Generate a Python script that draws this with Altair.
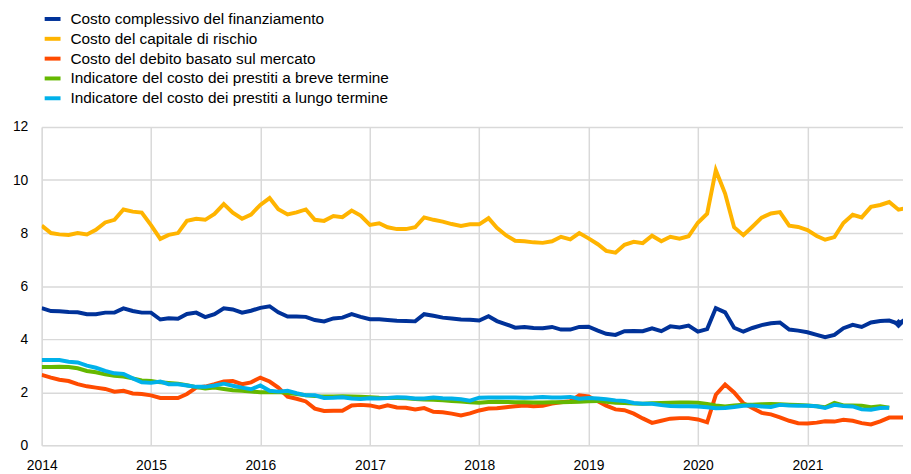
import altair as alt
import pandas as pd

names = [
    "Costo complessivo del finanziamento",
    "Costo del capitale di rischio",
    "Costo del debito basato sul mercato",
    "Indicatore del costo dei prestiti a breve termine",
    "Indicatore del costo dei prestiti a lungo termine",
]
colors = ["#003299", "#FFB400", "#FF4B00", "#65B800", "#00B1EA"]

# monthly values from Jan 2014 (last value of first three is just beyond the visible edge)
blue = [5.17, 5.06, 5.05, 5.02, 5.01, 4.94, 4.94, 5.00, 5.00, 5.16, 5.06, 5.00,
        5.00, 4.74, 4.79, 4.77, 4.95, 5.00, 4.83, 4.94, 5.16, 5.12, 5.00, 5.07,
        5.18, 5.24, 5.01, 4.85, 4.85, 4.84, 4.72, 4.67, 4.78, 4.81, 4.94, 4.84,
        4.75, 4.75, 4.72, 4.69, 4.68, 4.67, 4.94, 4.88, 4.81, 4.78, 4.74, 4.73,
        4.70, 4.86, 4.68, 4.56, 4.43, 4.46, 4.42, 4.41, 4.46, 4.36, 4.36, 4.46,
        4.47, 4.32, 4.20, 4.16, 4.30, 4.31, 4.30, 4.41, 4.30, 4.48, 4.44, 4.51,
        4.28, 4.38, 5.17, 5.01, 4.43, 4.28, 4.42, 4.53, 4.60, 4.63, 4.36, 4.32,
        4.26, 4.16, 4.07, 4.16, 4.41, 4.54, 4.46, 4.63, 4.68, 4.70, 4.58, 4.80]
yellow = [8.28, 8.00, 7.95, 7.93, 8.00, 7.95, 8.12, 8.40, 8.50, 8.89, 8.81, 8.77,
          8.30, 7.78, 7.93, 8.00, 8.46, 8.54, 8.50, 8.72, 9.09, 8.77, 8.54, 8.70,
          9.06, 9.32, 8.90, 8.70, 8.78, 8.89, 8.50, 8.46, 8.64, 8.60, 8.85, 8.66,
          8.31, 8.37, 8.22, 8.15, 8.15, 8.22, 8.59, 8.50, 8.43, 8.34, 8.27, 8.33,
          8.33, 8.56, 8.20, 7.91, 7.71, 7.69, 7.65, 7.63, 7.69, 7.86, 7.76, 8.00,
          7.80, 7.58, 7.33, 7.26, 7.56, 7.67, 7.62, 7.90, 7.69, 7.86, 7.79, 7.88,
          8.39, 8.73, 10.37, 9.49, 8.22, 7.92, 8.24, 8.58, 8.74, 8.79, 8.28, 8.23,
          8.11, 7.89, 7.75, 7.85, 8.38, 8.69, 8.59, 8.99, 9.06, 9.17, 8.88, 8.95]
orange = [2.65, 2.55, 2.47, 2.42, 2.30, 2.22, 2.17, 2.12, 2.02, 2.05, 1.95, 1.93,
          1.88, 1.78, 1.78, 1.78, 1.93, 2.17, 2.21, 2.30, 2.40, 2.42, 2.30, 2.37,
          2.55, 2.40, 2.17, 1.83, 1.75, 1.65, 1.38, 1.29, 1.30, 1.30, 1.50, 1.52,
          1.50, 1.42, 1.50, 1.42, 1.41, 1.35, 1.40, 1.26, 1.24, 1.19, 1.12, 1.20,
          1.31, 1.38, 1.39, 1.43, 1.47, 1.50, 1.47, 1.49, 1.57, 1.62, 1.66, 1.88,
          1.84, 1.66, 1.49, 1.35, 1.32, 1.19, 1.01, 0.84, 0.92, 1.00, 1.02, 1.02,
          0.97, 0.86, 1.90, 2.29, 1.99, 1.58, 1.40, 1.22, 1.16, 1.05, 0.92, 0.83,
          0.82, 0.85, 0.90, 0.89, 0.96, 0.92, 0.83, 0.78, 0.90, 1.04, 1.04, 1.05]
green = [2.95, 2.95, 2.96, 2.95, 2.90, 2.80, 2.75, 2.67, 2.62, 2.59, 2.52, 2.44,
         2.42, 2.37, 2.35, 2.32, 2.26, 2.19, 2.14, 2.17, 2.12, 2.07, 2.05, 2.02,
         2.00, 2.00, 2.00, 1.97, 1.93, 1.88, 1.85, 1.84, 1.84, 1.85, 1.84, 1.83,
         1.81, 1.79, 1.78, 1.78, 1.77, 1.74, 1.72, 1.71, 1.69, 1.67, 1.65, 1.62,
         1.60, 1.63, 1.64, 1.63, 1.62, 1.62, 1.61, 1.61, 1.62, 1.62, 1.63, 1.64,
         1.66, 1.67, 1.64, 1.60, 1.59, 1.57, 1.56, 1.58, 1.59, 1.60, 1.61, 1.61,
         1.60, 1.55, 1.50, 1.46, 1.50, 1.53, 1.53, 1.54, 1.55, 1.54, 1.53, 1.52,
         1.50, 1.47, 1.43, 1.60, 1.50, 1.50, 1.49, 1.43, 1.47, 1.41]
cyan = [3.21, 3.21, 3.21, 3.15, 3.12, 3.00, 2.92, 2.80, 2.71, 2.69, 2.52, 2.37,
        2.35, 2.40, 2.30, 2.30, 2.25, 2.20, 2.20, 2.25, 2.32, 2.24, 2.17, 2.11,
        2.25, 2.05, 2.02, 2.05, 1.96, 1.88, 1.88, 1.78, 1.79, 1.81, 1.76, 1.74,
        1.77, 1.76, 1.78, 1.81, 1.80, 1.76, 1.76, 1.80, 1.77, 1.76, 1.73, 1.68,
        1.79, 1.80, 1.80, 1.80, 1.80, 1.79, 1.80, 1.82, 1.80, 1.80, 1.82, 1.75,
        1.78, 1.76, 1.73, 1.69, 1.67, 1.59, 1.56, 1.56, 1.51, 1.48, 1.47, 1.47,
        1.46, 1.43, 1.39, 1.40, 1.44, 1.49, 1.50, 1.46, 1.44, 1.52, 1.50, 1.49,
        1.49, 1.47, 1.40, 1.52, 1.48, 1.46, 1.35, 1.34, 1.40, 1.41]

series = [blue, yellow, orange, green, cyan]
rows = []
for k, (name, vals) in enumerate(zip(names, series)):
    dates = pd.date_range("2014-01-01", periods=len(vals), freq="MS")
    for d, v in zip(dates, vals):
        rows.append({"date": d, "value": v, "serie": name, "order": k})
df = pd.DataFrame(rows)

last_blue = pd.DataFrame({"date": [pd.Timestamp("2021-11-01")], "value": [blue[94]]})

FONT = "Liberation Sans"
x_scale = alt.Scale(domain=[pd.Timestamp("2014-01-01").isoformat(), pd.Timestamp("2021-11-16").isoformat()], nice=False)
y_scale = alt.Scale(domain=[0, 12], nice=False)

lines = alt.Chart(df).mark_line(strokeWidth=4, clip=True).encode(
    x=alt.X("date:T", scale=x_scale, title=None,
            axis=alt.Axis(format="%Y", tickCount={"interval": "year", "step": 1},
                          labelFlush=False, domain=False, ticks=False, tickSize=0,
                          labelPadding=14, labelFontSize=14, labelFont=FONT,
                          labelColor="#000000", grid=True, gridColor="#d9d9d9", gridWidth=1.5)),
    y=alt.Y("value:Q", scale=y_scale, title=None,
            axis=alt.Axis(values=[0, 2, 4, 6, 8, 10, 12], domain=False, ticks=False, tickSize=0,
                          labelPadding=14, labelFontSize=14, labelFont=FONT,
                          labelColor="#000000", grid=True, gridColor="#d9d9d9", gridWidth=1.5)),
    color=alt.Color("serie:N", scale=alt.Scale(domain=names, range=colors), sort=names,
                    legend=alt.Legend(title=None, orient="none", legendX=1, legendY=-119,
                                      symbolType="stroke", symbolStrokeWidth=4, symbolSize=256,
                                      labelFontSize=15.5, labelFont=FONT, labelColor="#000000",
                                      rowPadding=1, padding=0, labelOffset=8, labelLimit=600)),
    detail="serie:N",
    order="order:Q",
)

marker = alt.Chart(last_blue).mark_point(shape="diamond", filled=True, size=90, color="#003299", opacity=1).encode(
    x=alt.X("date:T", scale=x_scale),
    y=alt.Y("value:Q", scale=y_scale),
)

chart = (lines + marker).properties(
    width=869, height=321,
    autosize=alt.AutoSizeParams(type="none"),
    padding={"left": 34, "top": 118, "right": 0, "bottom": 27},
).configure_view(stroke=None).configure(background="white")

chart.save("out.html", embed_options={"renderer": "svg", "actions": False})
